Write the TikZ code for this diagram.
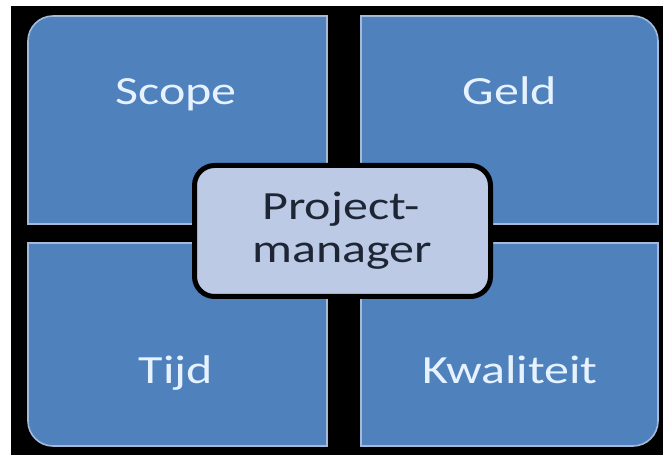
\documentclass[tikz,border=0pt]{standalone}
\usepackage{fontspec}
\setmainfont{Carlito}
\definecolor{boxblue}{HTML}{4F81BD}
\definecolor{boxedge}{HTML}{A3BADB}
\definecolor{pmfill}{HTML}{BCCAE5}
\definecolor{lighttext}{HTML}{E6F2FF}
\definecolor{darktext}{HTML}{1E2636}
\tikzset{
  quad/.style={fill=boxblue, draw=boxedge, line width=1.6pt},
  qtext/.style={anchor=base, inner sep=0pt, text=lighttext, font=\fontsize{40}{48}\selectfont},
  pmtext/.style={anchor=base, inner sep=0pt, text=darktext, font=\fontsize{40}{48}\selectfont},
  pmbox/.style={draw=black, line width=5pt, fill=pmfill, rounded corners=20pt,
    minimum width=296pt, minimum height=131pt, inner sep=0pt}
}
\newcommand{\wide}[1]{\scalebox{1.25}[1]{#1}}
\begin{document}
\begin{tikzpicture}[x=1pt,y=1pt]
\useasboundingbox (0,0) rectangle (663,455);
\fill[white] (0,0) rectangle (663,455);
\fill[black] (11,0) rectangle (663,449);
% top-left
\draw[quad] (28,231) -- (28,414) arc[start angle=180,end angle=90,radius=25] -- (327,439) -- (327,231) -- cycle;
% top-right
\draw[quad] (361,231) -- (361,439) -- (633,439) arc[start angle=90,end angle=0,radius=25] -- (658,231) -- cycle;
% bottom-left
\draw[quad] (28,212) -- (28,34) arc[start angle=180,end angle=270,radius=25] -- (327,9) -- (327,212) -- cycle;
% bottom-right
\draw[quad] (361,212) -- (361,9) -- (633,9) arc[start angle=270,end angle=360,radius=25] -- (658,212) -- cycle;
\node[qtext] (scope) at (176,350) {\wide{Scope}};
\node[qtext] (geld) at (510,350) {\wide{Geld}};
\node[qtext] (tijd) at (176,72) {\wide{Tijd}};
\node[qtext] (kwal) at (510,72) {\wide{Kwaliteit}};
\node[pmbox] (pm) at (342.5,224) {};
\node[pmtext] (pm1) at (341,235) {\wide{Project-}};
\node[pmtext] (pm2) at (342.5,192) {\wide{manager}};
\end{tikzpicture}
\end{document}
